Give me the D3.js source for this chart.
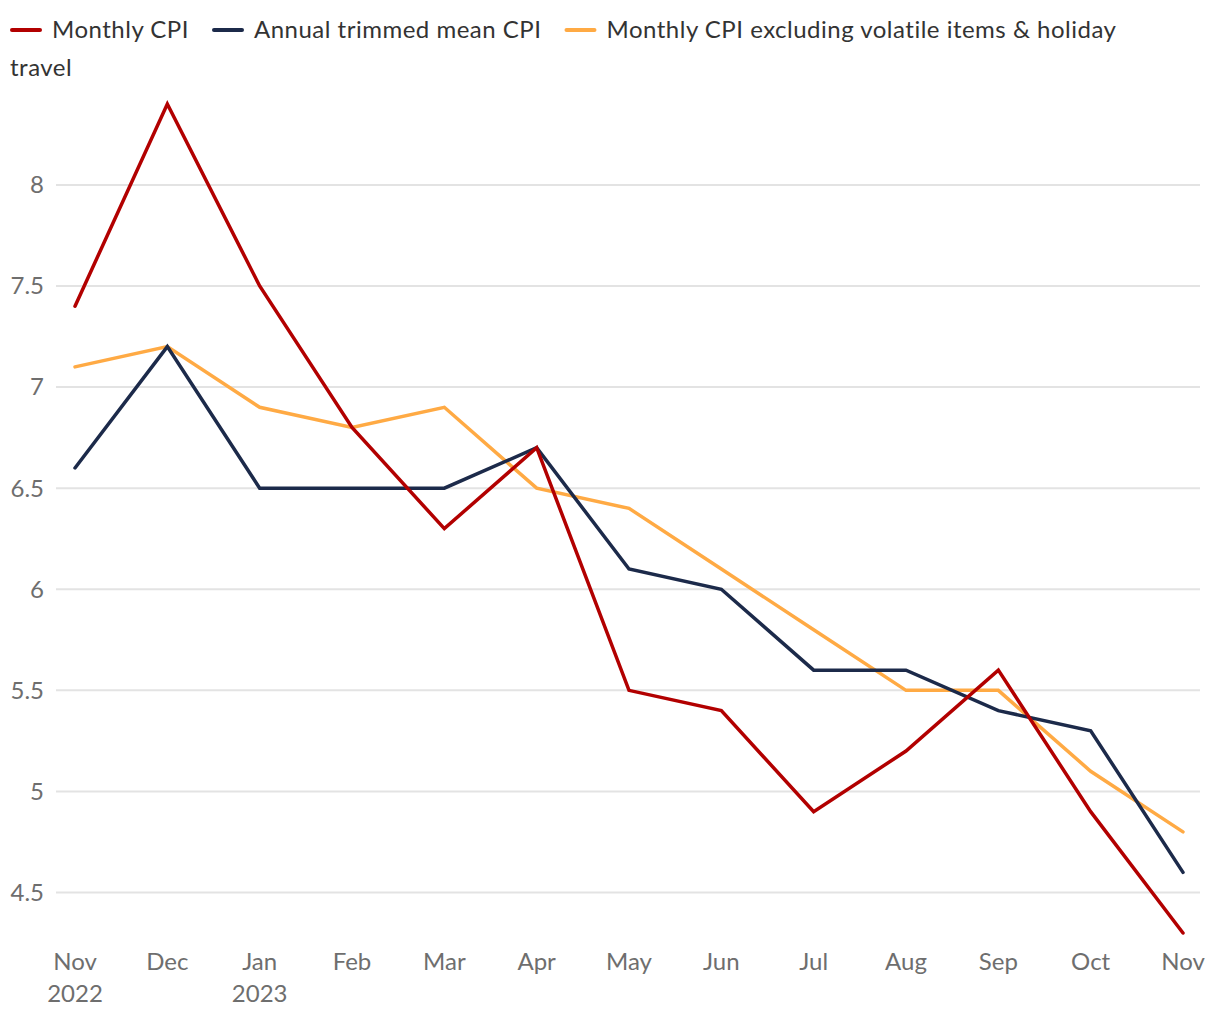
<!DOCTYPE html>
<html><head><meta charset="utf-8">
<script src="https://cdn.jsdelivr.net/npm/d3@7"></script>
<style>
body{margin:0;background:#fff;font-family:Lato,"Open Sans",sans-serif;}
svg{position:absolute;left:0;top:0;}
</style></head><body>
<svg id="chart" width="1220" height="1020"></svg>
<script>
const months = ["Nov","Dec","Jan","Feb","Mar","Apr","May","Jun","Jul","Aug","Sep","Oct","Nov"];
const years = ["2022","","2023","","","","","","","","","",""];
const seriesNames = ["Monthly CPI","Annual trimmed mean CPI","Monthly CPI excluding volatile items & holiday travel"];
const seriesColors = ["#b20000","#1c2a4a","#ffaa44"];
const monthlyCPI = [7.4,8.4,7.5,6.8,6.3,6.7,5.5,5.4,4.9,5.2,5.6,4.9,4.3];
const trimmedMean = [6.6,7.2,6.5,6.5,6.5,6.7,6.1,6.0,5.6,5.6,5.4,5.3,4.6];
const excludingVolatile = [7.1,7.2,6.9,6.8,6.9,6.5,6.4,6.1,5.8,5.5,5.5,5.1,4.8];
const yTicks = [4.5,5,5.5,6,6.5,7,7.5,8];
const allSeries = [monthlyCPI, trimmedMean, excludingVolatile];

const svg = d3.select("#chart");

// legend with word wrapping
const lg = svg.append("g").style("font-size","24px").style("letter-spacing","0.5px").attr("fill","#333");
const maxX = 1150, lineH = 38;
let cx = 10, cy = 38;
seriesNames.forEach((n,i)=>{
  lg.append("line").attr("x1",cx+2).attr("x2",cx+30).attr("y1",cy-8).attr("y2",cy-8)
    .attr("stroke",seriesColors[i]).attr("stroke-width",4).attr("stroke-linecap","round");
  cx += 42;
  const words = n.split(" ");
  let t = lg.append("text").attr("x",cx).attr("y",cy);
  let cur = "";
  words.forEach(w=>{
    const trial = cur ? cur + " " + w : w;
    t.text(trial);
    if (cx + t.node().getComputedTextLength() > maxX && cur) {
      t.text(cur);
      cx = 10; cy += lineH;
      t = lg.append("text").attr("x",cx).attr("y",cy).text(w);
      cur = w;
    } else cur = trial;
  });
  cx += t.node().getComputedTextLength() + 23;
});

const x = d3.scalePoint().domain(d3.range(months.length)).range([75,1183]);
const y = d3.scaleLinear().domain([4.3,8.4]).range([933,104]);

const grid = svg.append("g");
grid.selectAll("line").data(yTicks).join("line")
  .attr("x1",56).attr("x2",1200)
  .attr("y1",d=>y(d)).attr("y2",d=>y(d))
  .attr("stroke","#e3e3e3").attr("stroke-width",2);
grid.selectAll("text").data(yTicks).join("text")
  .attr("x",44).attr("y",d=>y(d)).attr("dy","0.35em")
  .attr("text-anchor","end").attr("fill","#6e6e6e")
  .style("font-size","24px").text(d=>d);

const xl = svg.append("g");
xl.selectAll("text.m").data(months).join("text").attr("class","m")
  .attr("x",(d,i)=>x(i)).attr("y",970).attr("text-anchor","middle")
  .attr("fill","#6e6e6e").style("font-size","24px").text(d=>d);
xl.selectAll("text.yr").data(years.filter(d=>d)).join("text").attr("class","yr")
  .attr("x",d=>x(years.indexOf(d))).attr("y",1002).attr("text-anchor","middle")
  .attr("fill","#6e6e6e").style("font-size","24px").text(d=>d);

const line = d3.line().x((d,i)=>x(i)).y(d=>y(d));
[2,1,0].forEach(k=>{
  svg.append("path").datum(allSeries[k]).attr("d",line)
    .attr("fill","none").attr("stroke",seriesColors[k])
    .attr("stroke-width",3.5).attr("stroke-linejoin","miter").attr("stroke-linecap","round");
});
</script>
</body></html>
